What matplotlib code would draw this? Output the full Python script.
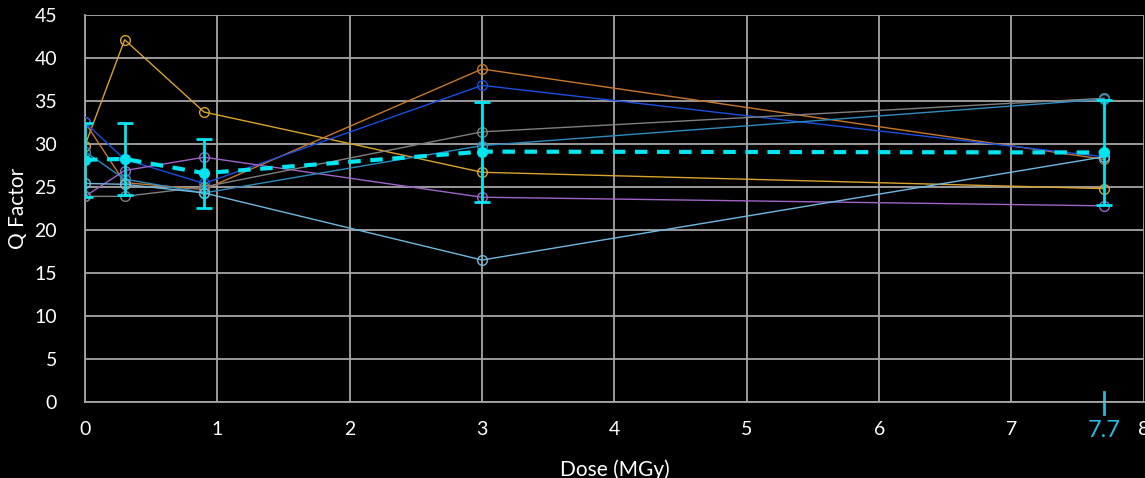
import numpy as np
import matplotlib
matplotlib.use("Agg")
import matplotlib.pyplot as plt

plt.rcParams["font.family"] = ["Lato", "DejaVu Sans"]

# dose points (MGy)
dose = [0, 0.3, 0.9, 3, 7.7]

# Q factor of each resonator
q_gold = [29.8, 42.1, 33.7, 26.7, 24.8]
q_orange = [32.5, 25.5, 24.7, 38.7, 28.2]
q_blue = [32.5, 28.2, 25.4, 36.8, 28.5]
q_purple = [23.9, 26.9, 28.45, 23.8, 22.8]
q_gray = [23.9, 23.9, 25.0, 31.4, 35.3]
q_steel = [29.1, 25.9, 24.3, 29.8, 35.2]
q_light = [25.4, 25.3, 24.3, 16.5, 28.5]

series = [
    (q_gold, "#D9A32E"),
    (q_orange, "#C8782A"),
    (q_blue, "#1A4FE0"),
    (q_purple, "#A064C8"),
    (q_gray, "#7F7F7F"),
    (q_steel, "#2E8BC0"),
    (q_light, "#70B8DE"),
]

# average and error bars
q_mean = [28.15, 28.25, 26.6, 29.1, 29.0]
q_err = [4.3, 4.2, 4.0, 5.8, 6.1]

x_ticks = [0, 1, 2, 3, 4, 5, 6, 7, 8]
y_ticks = [0, 5, 10, 15, 20, 25, 30, 35, 40, 45]
max_dose = 7.7

fig = plt.figure(figsize=(11.45, 4.78), dpi=100, facecolor="black")
ax = fig.add_axes([0.0742, 0.159, 0.9248, 0.810])
ax.set_facecolor("black")

for vals, c in series:
    ax.plot(dose, vals, color=c, lw=1.0, marker="o", markersize=7,
            markerfacecolor="none", markeredgecolor=c, markeredgewidth=1.0,
            zorder=3)

ax.errorbar(dose, q_mean, yerr=q_err, color="#00E5F0", lw=3.0,
            ls=(0, (3, 2.3)), marker="o", markersize=7, elinewidth=2,
            capsize=6, capthick=2, zorder=5)

ax.set_xlim(0, 8)
ax.set_ylim(0, 45)
ax.set_xticks(x_ticks)
ax.set_yticks(y_ticks)
ax.grid(True, color="#A6A6A6", lw=1.3, zorder=0)
ax.set_axisbelow(True)
for side in ["left", "bottom"]:
    ax.spines[side].set_color("#A6A6A6")
    ax.spines[side].set_linewidth(1.3)
for side in ["top", "right"]:
    ax.spines[side].set_visible(False)

ax.tick_params(axis="both", length=0, colors="white", labelsize=14)
ax.tick_params(axis="y", pad=20)
ax.tick_params(axis="x", pad=14)
ax.set_xlabel("Dose (MGy)", color="white", fontsize=15, labelpad=15)
ax.set_ylabel("Q Factor", color="white", fontsize=15)
ax.yaxis.set_label_coords(-0.054, 0.5)

# marker for the highest dose
ax.axvline(max_dose, ymin=-0.03, ymax=0.025, color="#2BB8DD", lw=2,
           clip_on=False)
ax.text(max_dose, -3.3, f"{max_dose}", color="#2BB8DD", fontsize=17,
        ha="center", va="center", clip_on=False)

fig.savefig("out.png", dpi=100, facecolor="black")
